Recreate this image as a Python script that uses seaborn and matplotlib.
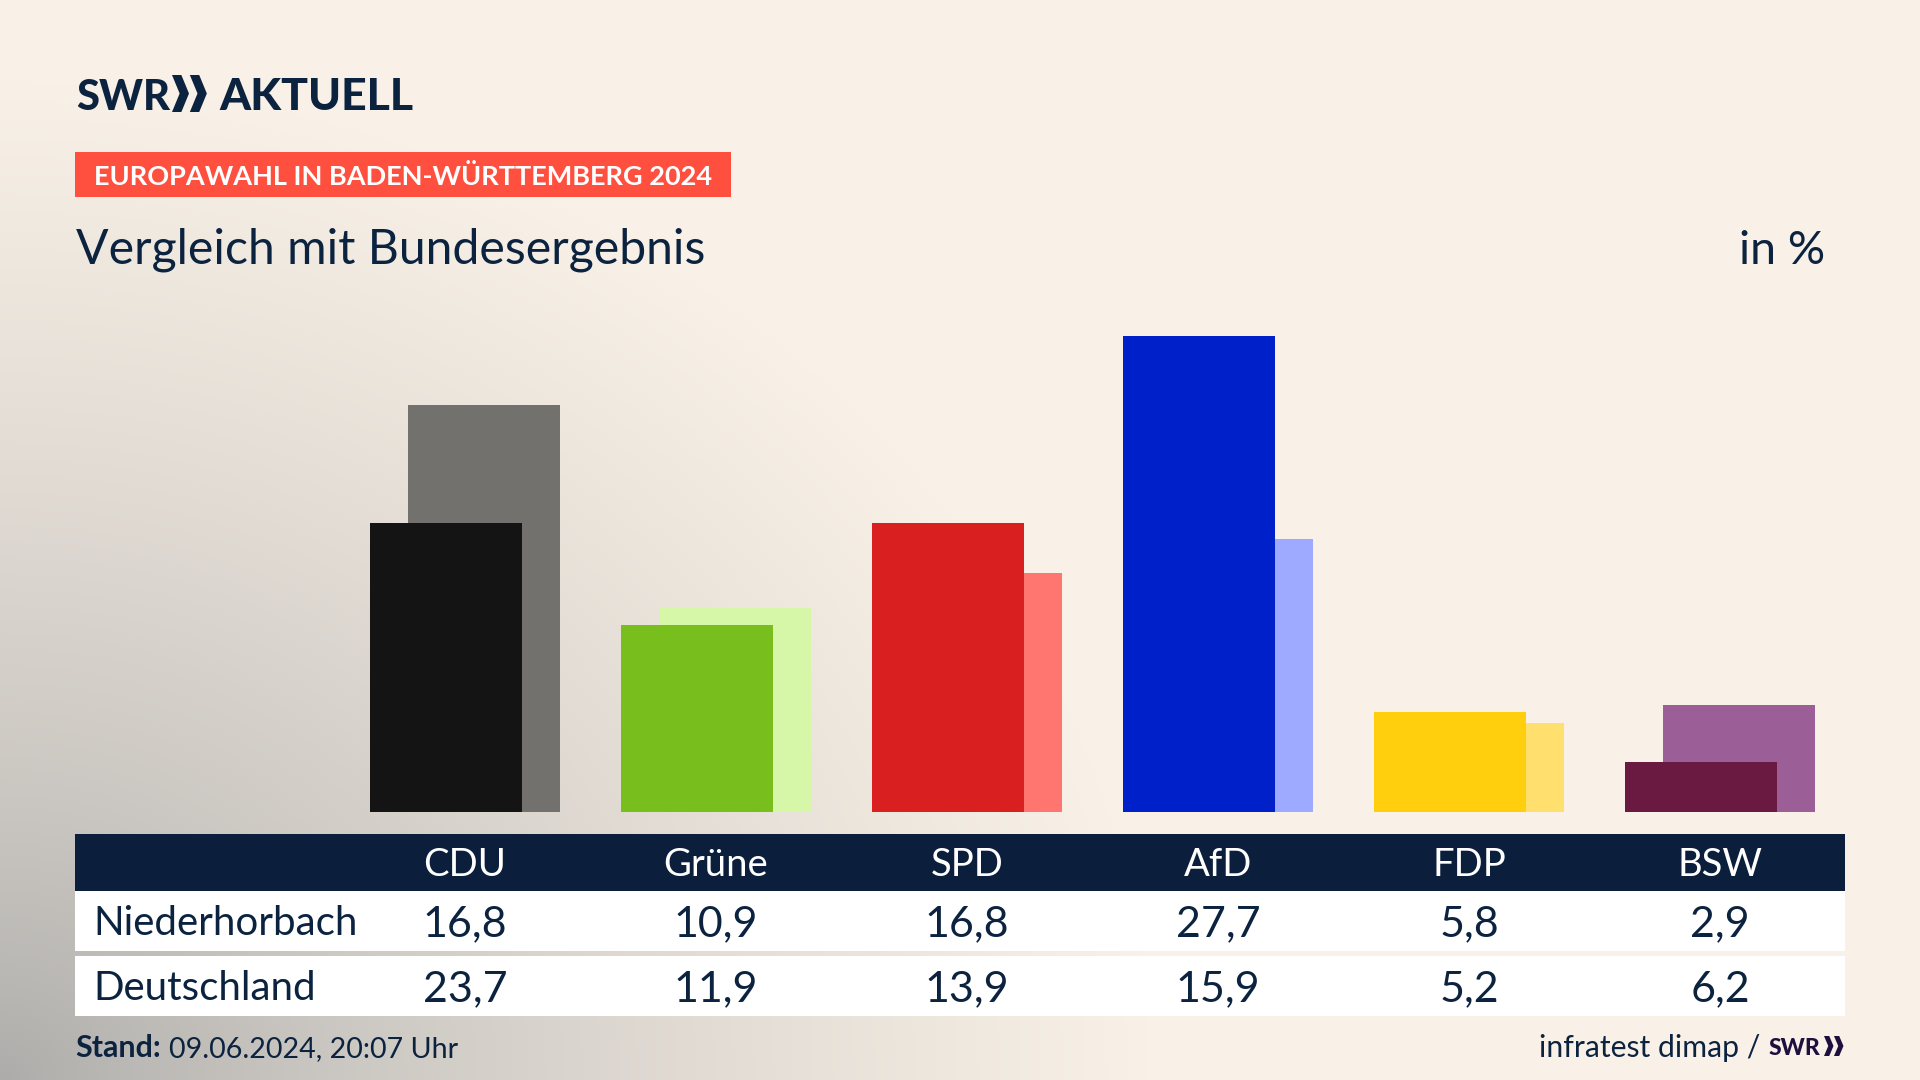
import numpy as np
import pandas as pd
import matplotlib.pyplot as plt
from matplotlib.patches import Polygon, Rectangle
import seaborn as sns

parties = ['CDU', 'Grüne', 'SPD', 'AfD', 'FDP', 'BSW']
niederhorbach = [16.8, 10.9, 16.8, 27.7, 5.8, 2.9]
deutschland = [23.7, 11.9, 13.9, 15.9, 5.2, 6.2]
colors_local = ['#141414', '#78BE1C', '#D91F1F', '#0021C9', '#FFCE0C', '#6A1A40']
colors_federal = ['#73716E', '#D6F7A8', '#FF7670', '#9DAAFF', '#FFE06E', '#9B5E96']

NAVY = '#0B1F3D'
TEXT = '#0C2340'

sns.set_theme(style='white')
plt.rcParams['font.family'] = ['Lato', 'DejaVu Sans']

fig = plt.figure(figsize=(19.2, 10.8), dpi=100)

# background + everything that is not a bar, in pixel coordinates
bg = fig.add_axes([0, 0, 1, 1])
bg.set_xlim(0, 1920)
bg.set_ylim(1080, 0)
bg.axis('off')

yy, xx = np.mgrid[0:1080:270j, 0:1920:480j]
dist = np.sqrt((xx / 1150) ** 2 + ((1080 - yy) / 1000) ** 2)
fade = np.clip(dist, 0, 1) ** 0.75
corner = np.array([172, 171, 169]) / 255
cream = np.array([249, 241, 231]) / 255
grad = corner + (cream - corner) * fade[..., None]
bg.imshow(grad, extent=(0, 1920, 1080, 0), aspect='auto', zorder=0)


def chevrons(x, y0, y1, w, color):
    # the two arrows of the SWR logo
    h = y1 - y0
    for dx in (0, w * 1.05):
        pts = [(x + dx, y0), (x + dx + w * 0.55, y0), (x + dx + w, y0 + h / 2),
               (x + dx + w * 0.55, y1), (x + dx, y1), (x + dx + w * 0.45, y0 + h / 2)]
        bg.add_patch(Polygon(pts, closed=True, fc=color, ec='none', zorder=3))


# header
bg.text(76, 110, 'SWR', fontsize=30, fontweight=900, color=TEXT, va='baseline', ha='left')
chevrons(172, 75, 112, 17, TEXT)
bg.text(219, 110, 'AKTUELL', fontsize=32, fontweight=900, color=TEXT, va='baseline', ha='left')

bg.add_patch(Rectangle((75, 152), 656, 45, fc='#FF4F3E', ec='none', zorder=2))
bg.text(94, 185, 'EUROPAWAHL IN BADEN-WÜRTTEMBERG 2024', fontsize=19.5, fontweight='bold',
        color='white', va='baseline', ha='left', zorder=3)
bg.text(76, 264, 'Vergleich mit Bundesergebnis', fontsize=34.7, color=TEXT, va='baseline', ha='left')
bg.text(1825, 264, 'in %', fontsize=33.5, color=TEXT, va='baseline', ha='right')

# table
bg.add_patch(Rectangle((75, 834), 1770, 57, fc=NAVY, ec='none', zorder=2))
bg.add_patch(Rectangle((75, 891), 1770, 60, fc='white', ec='none', zorder=2))
bg.add_patch(Rectangle((75, 956), 1770, 60, fc='white', ec='none', zorder=2))

col_x = [465 + 251 * i for i in range(len(parties))]
for x, party, a, b in zip(col_x, parties, niederhorbach, deutschland):
    bg.text(x, 876, party, fontsize=27.5, color='white', ha='center', va='baseline', zorder=3)
    bg.text(x, 936, f'{a:.1f}'.replace('.', ','), fontsize=31, color=TEXT, ha='center', va='baseline', zorder=3)
    bg.text(x, 1001, f'{b:.1f}'.replace('.', ','), fontsize=31, color=TEXT, ha='center', va='baseline', zorder=3)
bg.text(93, 935, 'Niederhorbach', fontsize=29, color=TEXT, va='baseline', ha='left', zorder=3)
bg.text(93, 1000, 'Deutschland', fontsize=29, color=TEXT, va='baseline', ha='left', zorder=3)

# footer
bg.text(75, 1057, 'Stand:', fontsize=22, fontweight='bold', color=TEXT, va='baseline', ha='left')
bg.text(169, 1057, '09.06.2024, 20:07 Uhr', fontsize=20.65, color=TEXT, va='baseline', ha='left')
bg.text(1760, 1057, 'infratest dimap /', fontsize=21.7, color=TEXT, va='baseline', ha='right')
bg.text(1769, 1055, 'SWR', fontsize=16.5, fontweight=900, color='#1F0F3F', va='baseline', ha='left')
chevrons(1824, 1036, 1056, 9.5, '#1F0F3F')

# bars: federal result behind, shifted right; local result in front
ax = fig.add_axes([0, (1080 - 812) / 1080, 1, 812 / 1080])
ax.patch.set_alpha(0)
pos = np.arange(len(parties))
shift = 19 / 251
df_federal = pd.DataFrame({'x': pos + shift, 'wert': deutschland, 'partei': parties})
df_local = pd.DataFrame({'x': pos - shift, 'wert': niederhorbach, 'partei': parties})
sns.barplot(data=df_federal, x='x', y='wert', hue='partei', palette=dict(zip(parties, colors_federal)),
            native_scale=True, dodge=False, width=152 / 251, saturation=1, legend=False, linewidth=0, ax=ax)
sns.barplot(data=df_local, x='x', y='wert', hue='partei', palette=dict(zip(parties, colors_local)),
            native_scale=True, dodge=False, width=152 / 251, saturation=1, legend=False, linewidth=0, ax=ax)
ax.set_xlim(-465 / 251, (1920 - 465) / 251)
ax.set_ylim(0, 812 / 17.18)
ax.axis('off')

fig.savefig('out.png', dpi=100)
